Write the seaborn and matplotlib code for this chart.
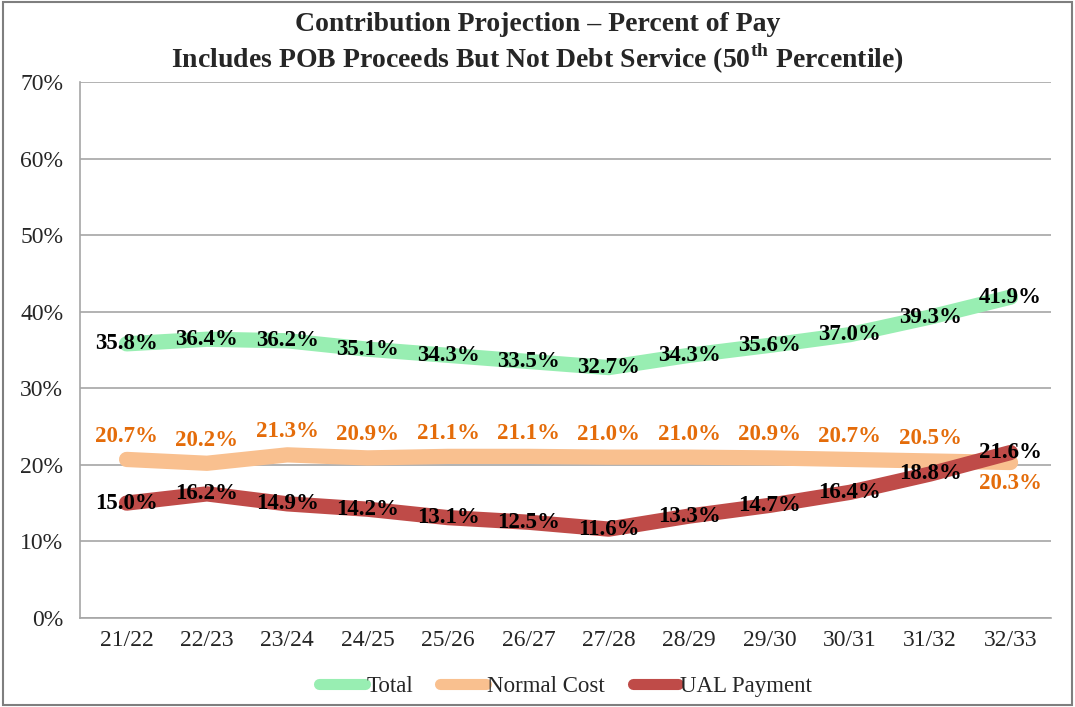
import pandas as pd
import matplotlib
matplotlib.use("Agg")
import matplotlib.pyplot as plt
import seaborn as sns

# chart data
years = ["21/22", "22/23", "23/24", "24/25", "25/26", "26/27",
         "27/28", "28/29", "29/30", "30/31", "31/32", "32/33"]
total = [35.8, 36.4, 36.2, 35.1, 34.3, 33.5, 32.7, 34.3, 35.6, 37.0, 39.3, 41.9]
normal_cost = [20.7, 20.2, 21.3, 20.9, 21.1, 21.1, 21.0, 21.0, 20.9, 20.7, 20.5, 20.3]
ual_payment = [15.0, 16.2, 14.9, 14.2, 13.1, 12.5, 11.6, 13.3, 14.7, 16.4, 18.8, 21.6]
series_names = ["Total", "Normal Cost", "UAL Payment"]
y_ticks = [0, 10, 20, 30, 40, 50, 60, 70]

df = pd.DataFrame({
    "year": years * 3,
    "series": [series_names[0]] * 12 + [series_names[1]] * 12 + [series_names[2]] * 12,
    "value": total + normal_cost + ual_payment,
})

sns.set_style("white")
plt.rcParams["font.family"] = ["Liberation Serif", "DejaVu Serif"]

colors = {"Total": "#98EEB2", "Normal Cost": "#F9C08F", "UAL Payment": "#BF4B48"}

fig = plt.figure(figsize=(10.75, 7.07), dpi=100)
ax = fig.add_axes([0.0744, 0.126, 0.903, 0.758])

sns.lineplot(data=df, x="year", y="value", hue="series", palette=colors,
             linewidth=11, sort=False, ax=ax, legend=True,
             solid_capstyle="round", solid_joinstyle="round")

# data labels
lbl = dict(ha="center", va="center", fontsize=16.5, fontweight="bold")
for i, v in enumerate(total):
    ax.annotate(f"{v:.1f}%", (i, v), color="black", **lbl)
for i, v in enumerate(normal_cost):
    dy = 16.5 if i < len(normal_cost) - 1 else -15
    ax.annotate(f"{v:.1f}%", (i, v), xytext=(0, dy), textcoords="offset points",
                color="#E46C0A", **lbl)
for i, v in enumerate(ual_payment):
    ax.annotate(f"{v:.1f}%", (i, v), color="black", **lbl)

ax.set_ylim(0, 70)
ax.set_xlim(-0.58, 11.5)
ax.set_yticks(y_ticks)
ax.set_yticklabels([f"{t}%" for t in y_ticks], fontsize=17)
ax.tick_params(axis="x", labelsize=17, length=0, pad=9)
ax.tick_params(axis="y", length=0, pad=12)
ax.yaxis.grid(True, color="#A6A6A6", linewidth=1.2)
ax.set_xlabel("")
ax.set_ylabel("")
for side in ["top", "right"]:
    ax.spines[side].set_visible(False)
for side in ["left", "bottom"]:
    ax.spines[side].set_color("#A6A6A6")
    ax.spines[side].set_linewidth(1.2)

fig.text(0.5, 0.965, "Contribution Projection – Percent of Pay",
         ha="center", va="center", fontsize=20, fontweight="bold")
fig.text(0.5, 0.917,
         "Includes POB Proceeds But Not Debt Service (50$^{\\mathregular{th}}$ Percentile)",
         ha="center", va="center", fontsize=20, fontweight="bold")

leg = ax.legend(loc="upper center", bbox_to_anchor=(0.5, -0.07), ncol=3,
                frameon=False, prop={"family": "Liberation Serif", "size": 16.5},
                handlelength=2.0, handletextpad=0.05, columnspacing=1.2)
for line in leg.get_lines():
    line.set_linewidth(8)
    line.set_solid_capstyle("round")

# outer border
fig.patches.append(plt.Rectangle((0.003, 0.003), 0.994, 0.994, transform=fig.transFigure,
                                 fill=False, edgecolor="#7F7F7F", linewidth=1.5))

fig.savefig("out.png", dpi=100)
